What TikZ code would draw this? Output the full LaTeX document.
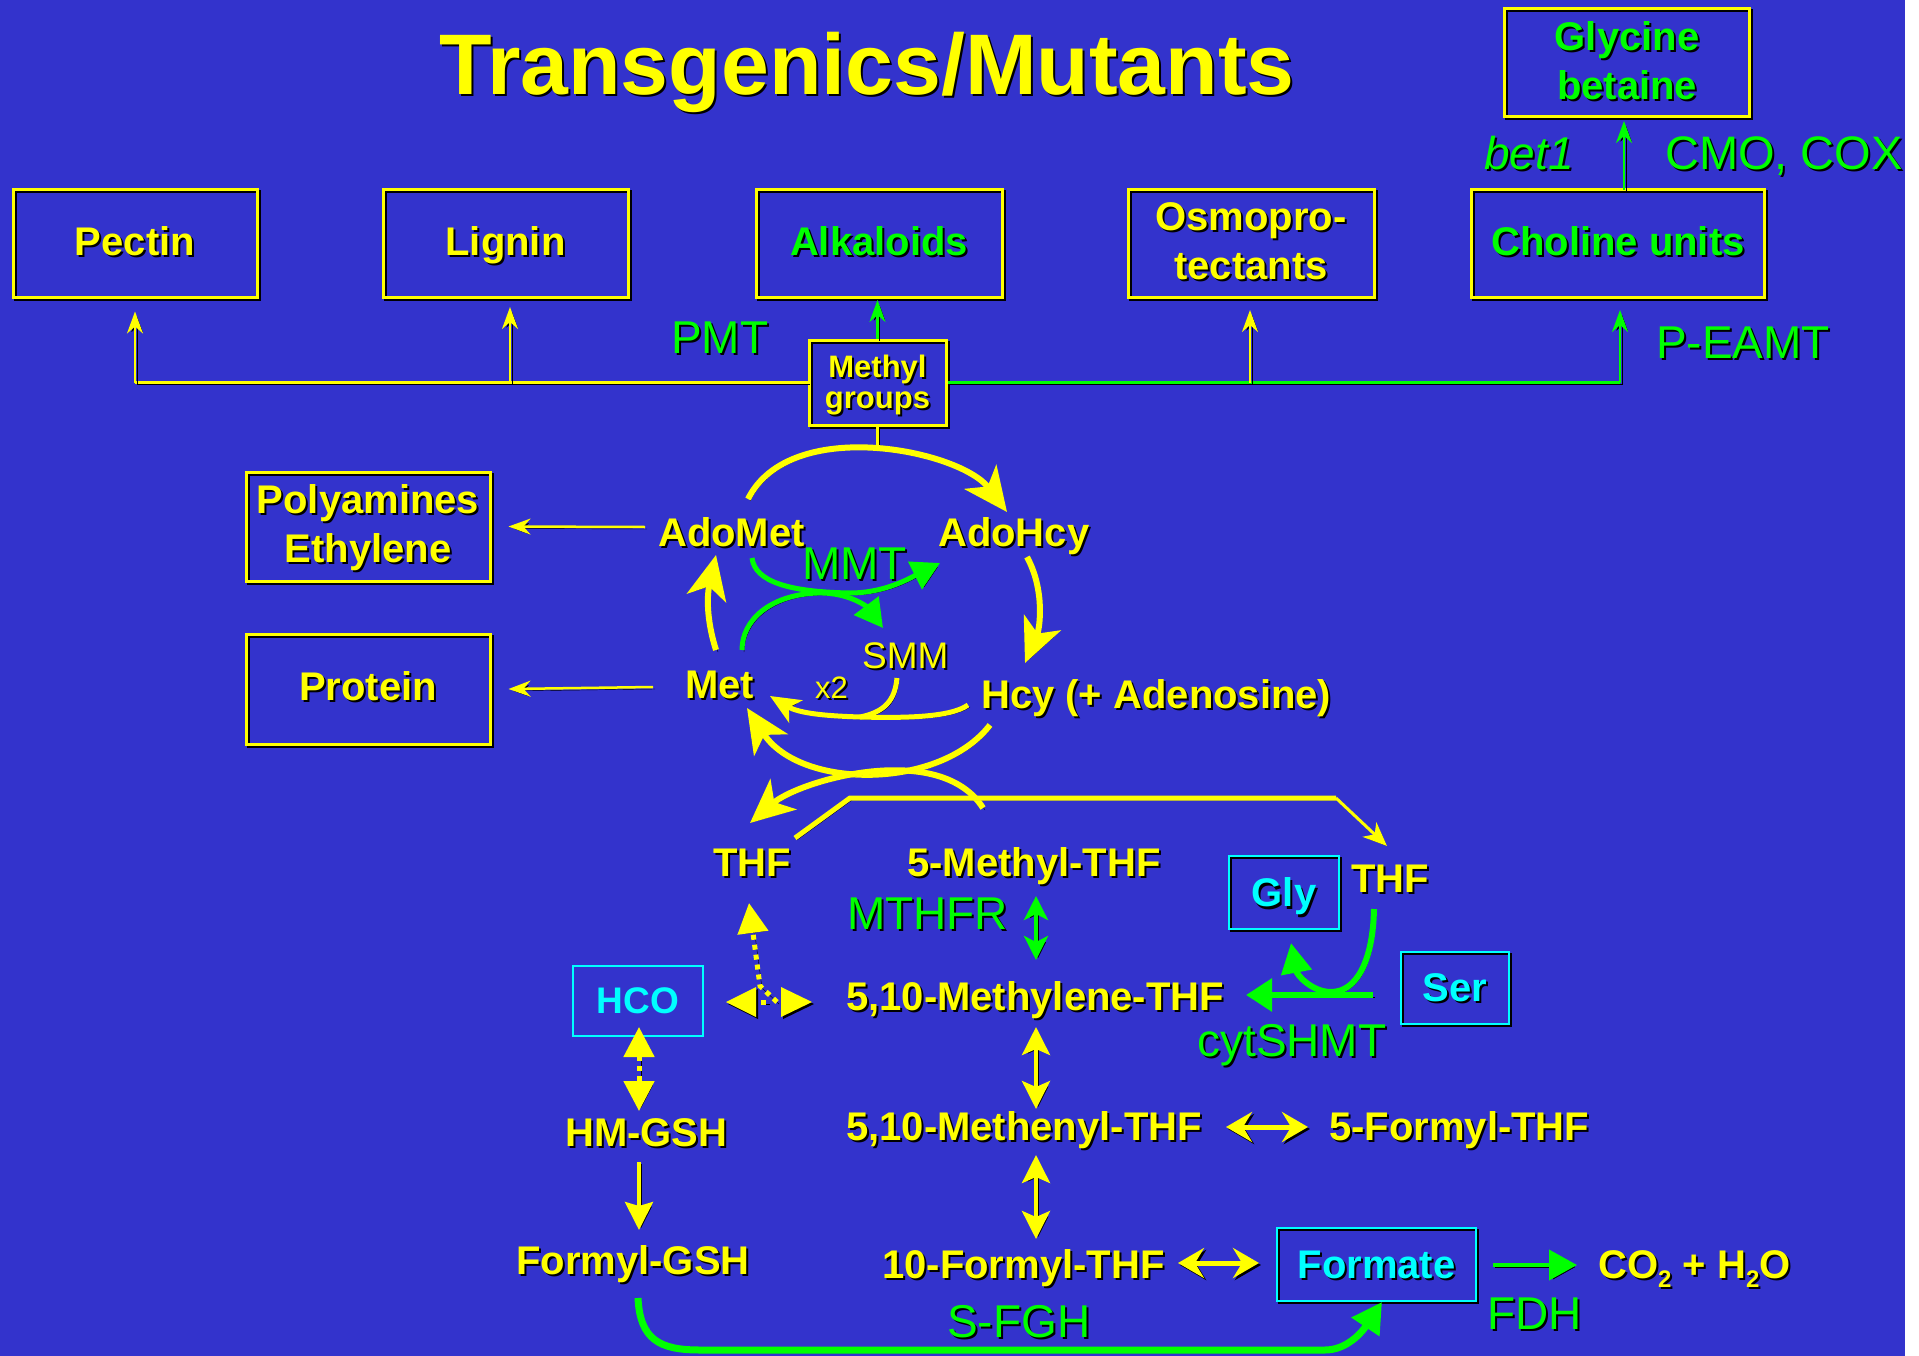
\documentclass[tikz,border=0pt]{standalone}
\usepackage{fontspec}
\setmainfont{Liberation Sans}
\usetikzlibrary{arrows.meta}
\definecolor{bg}{RGB}{51,51,204}
\definecolor{yel}{RGB}{255,255,0}
\definecolor{grn}{RGB}{0,255,0}
\definecolor{cyn}{RGB}{0,255,255}
\newcommand\sh[1]{\leavevmode\rlap{\kern2pt\raisebox{-2pt}{\color{black}#1}}#1}
\newcommand\fs[1]{\fontsize{#1}{#1}\selectfont}
\tikzset{
  shd/.style={preaction={draw=black,transform canvas={shift={(2pt,-2pt)}}}},
  fshd/.style={preaction={fill=black,transform canvas={shift={(2pt,-2pt)}}}},
  ThinTip/.tip={Stealth[length=22pt,width=16pt,inset=7pt]},
  BigTip/.tip={Stealth[length=44pt,width=40pt,inset=12pt]},
  MidTip/.tip={Stealth[length=28pt,width=28pt,inset=6pt]},
  HorTip/.tip={Stealth[length=26pt,width=30pt,inset=9pt]},
  GTip/.tip={Triangle[length=28pt,width=30pt]},
  TriTip/.tip={Triangle[length=30pt,width=30pt]},
  yline/.style={draw=yel,line width=2.5pt,shd},
  gline/.style={draw=grn,line width=2.5pt,shd},
  arc/.style={draw=yel,line width=6pt,shd},
  ydot/.style={draw=yel,line width=5pt,dash pattern=on 5pt off 5pt,shd},
  lab/.style={anchor=base west,inner sep=0pt,text=yel,font=\bfseries\fs{40}},
  enz/.style={anchor=base west,inner sep=0pt,text=grn,font=\fs{46}},
  ybox/.style={draw=yel,line width=3pt,shd,inner sep=0pt,align=center,text depth=5pt,
    minimum height=108pt,text=yel,font=\bfseries\fontsize{40}{49}\selectfont},
  cbox/.style={draw=cyn,line width=2.5pt,shd,inner sep=0pt,align=center,text depth=0pt,
    text=cyn,font=\bfseries\fs{40}},
}
\begin{document}
\begin{tikzpicture}[x=1pt,y=-1pt]
\useasboundingbox (0,0) rectangle (1919,1356);
\fill[white] (0,0) rectangle (1919,1356);
\fill[bg] (0,0) rectangle (1905,1356);

% title
\node[anchor=base,inner sep=0pt,text=yel,font=\bfseries\fs{86}] (title) at (867,95) {\sh{Transgenics/Mutants}};

% top boxes
\node[ybox,minimum width=244pt] (pectin) at (135,244) {\sh{Pectin}};
\node[ybox,minimum width=245pt] (lignin) at (505.5,244) {\sh{Lignin}};
\node[ybox,minimum width=246pt,text=grn] (alk) at (879,244) {\sh{Alkaloids}};
\node[ybox,minimum width=246pt] (osmo) at (1251,244) {\sh{Osmopro-}\\\sh{tectants}};
\node[ybox,minimum width=293pt,text=grn] (chol) at (1618,244) {\sh{Choline units}};
\node[ybox,minimum width=245pt,text=grn] (glyb) at (1627,63) {\sh{Glycine}\\\sh{betaine}};
\node[ybox,minimum width=137pt,minimum height=85pt,text depth=2pt,font=\bfseries\fontsize{31}{31}\selectfont] (methyl) at (877.5,382.5) {\sh{Methyl}\\\sh{groups}};

% enzyme labels top
\node[enz] (pmt) at (671,353) {\sh{PMT}};
\node[enz] (peamt) at (1656,358) {\sh{P-EAMT}};
\node[enz,font=\itshape\fs{46}] (bet) at (1484,170) {\sh{bet1}};
\node[enz,font=\fs{47}] (cmo) at (1665,170) {\sh{CMO, COX}};

% bus
\coordinate (bL) at (135,382.5);
\coordinate (bLig) at (510,382.5);
\coordinate (bO) at (1250,382.5);
\coordinate (bR) at (1620,382.5);
\coordinate (cg0) at (1624,190);
\coordinate (cg1) at (1624,121);
\draw[yline] (bL) -- (methyl.west);
\draw[gline] (methyl.east) -- (bR);
\draw[yline,-ThinTip] (bL) -- ([yshift=-12pt]pectin.south);
\draw[yline,-ThinTip] (bLig) -- (510,307);
\draw[yline,-ThinTip] (bO) -- (1250,310);
\draw[gline,-ThinTip] (bR) -- (1620,310);
\draw[gline,-ThinTip] (methyl.north) -- (877.5,300);
\draw[gline,-ThinTip] (cg0) -- (cg1);

% middle
\node[ybox,minimum width=244pt,minimum height=109pt] (poly) at (368,526.5) {\sh{Polyamines}\\\sh{Ethylene}};
\node[ybox,minimum width=244pt,minimum height=110pt] (prot) at (368,689) {\sh{Protein}};
\node[lab] (adomet) at (658,546) {\sh{AdoMet}};
\node[lab] (adohcy) at (938,546) {\sh{AdoHcy}};
\node[lab] (met) at (685,698) {\sh{Met}};
\node[lab] (hcy) at (981,708) {\sh{Hcy (+ Adenosine)}};
\node[anchor=base west,inner sep=0pt,text=yel,font=\fs{37}] (smm) at (862,668) {\sh{SMM}};
\node[anchor=base west,inner sep=0pt,text=yel,font=\fs{31}] (x2) at (815,698) {\sh{x2}};
\node[enz] (mmt) at (802,579) {\sh{MMT}};

\coordinate (pa0) at (645,527);
\coordinate (pr0) at (653,687);
\draw[yline,-ThinTip] (pa0) -- ([xshift=17pt]poly.east);
\draw[yline,-ThinTip] (pr0) -- ([xshift=17pt]prot.east);

\draw[yline] (methyl.south) -- (877.5,447);
\draw[arc,-BigTip] (748,499) .. controls (790,415) and (960,450) .. (1007,512);
\draw[arc,-BigTip] (1027,557) .. controls (1045,590) and (1040,628) .. (1025,663);
\draw[arc,-BigTip] (990,725) .. controls (940,790) and (800,790) .. (747,708);
\draw[arc,-BigTip] (983,808) .. controls (940,740) and (800,780) .. (750,823);
\draw[arc,-BigTip] (716,650) .. controls (708,625) and (706,600) .. (716,555);
\draw[arc,line width=5pt] (897,678) .. controls (895,700) and (885,712) .. (860,717);
\draw[arc,line width=5pt,-{Stealth[length=30pt,width=26pt,inset=8pt]}] (968,705) .. controls (950,718) and (900,718) .. (860,717) .. controls (830,716) and (800,714) .. (770,696);

\draw[gline,line width=5pt,-GTip] (752,558) .. controls (755,582) and (790,592) .. (850,593) .. controls (885,593) and (910,578) .. (940,563);
\draw[gline,line width=5pt,-GTip] (742,650) .. controls (742,620) and (770,595) .. (817,593) .. controls (850,592) and (868,608) .. (883,628);

% lower
\node[lab] (thfL) at (713,876) {\sh{THF}};
\node[lab] (mthf) at (907,876) {\sh{5-Methyl-THF}};
\node[enz] (mthfr) at (847,929) {\sh{MTHFR}};
\node[lab] (mlene) at (846,1010) {\sh{5,10-Methylene-THF}};
\node[draw=cyn,line width=2.5pt,inner sep=0pt,minimum width=130pt,minimum height=70pt,text=cyn,font=\bfseries\fs{37},text depth=0pt] (hco) at (638,1001) {HCO};
\node[lab] (hmgsh) at (565,1146) {\sh{HM-GSH}};
\node[lab] (fgsh) at (516,1274) {\sh{Formyl-GSH}};
\node[lab] (menyl) at (846,1140) {\sh{5,10-Methenyl-THF}};
\node[lab] (fthf5) at (1329,1140) {\sh{5-Formyl-THF}};
\node[lab] (fthf10) at (882,1278) {\sh{10-Formyl-THF}};
\node[cbox,minimum width=199pt,minimum height=73pt] (formate) at (1376.5,1264.5) {\sh{Formate}};
\node[lab] (co2) at (1598,1278) {\sh{CO\raisebox{-9pt}{\fs{24}2} + H\raisebox{-9pt}{\fs{24}2}O}};
\node[enz] (fdh) at (1487,1329) {\sh{FDH}};
\node[enz] (sfgh) at (947,1337) {\sh{S-FGH}};
\node[cbox,minimum width=110pt,minimum height=73pt] (gly) at (1284,892.5) {\sh{Gly}};
\node[lab] (thfR) at (1351,892) {\sh{THF}};
\node[cbox,minimum width=108pt,minimum height=72pt] (ser) at (1455,988) {\sh{Ser}};
\node[enz] (cyt) at (1197,1056) {\sh{cytSHMT}};

% THF polyline
\draw[arc,line width=5pt,line join=miter] (795,838) -- (850,798) -- (1336,798);
\draw[yline,line width=3pt,-{Stealth[length=24pt,width=20pt,inset=7pt]}] (1336,798) -- (1387,846);

% vertical double arrows
\draw[gline,line width=4pt,{Stealth[length=24pt,width=24pt,inset=6pt]}-{Stealth[length=24pt,width=24pt,inset=6pt]}] (1036,896) -- (1036,960);
\draw[yline,line width=4pt,MidTip-MidTip] (1036,1027) -- (1036,1109);
\draw[yline,line width=4pt,MidTip-MidTip] (1036,1155) -- (1036,1239);
% horizontal double arrows
\draw[yline,line width=5pt,HorTip-HorTip] (1226,1127) -- (1308,1127);
\draw[yline,line width=5pt,HorTip-HorTip] (1178,1263) -- (1259,1263);
% formate -> CO2
\draw[gline,line width=4pt,-GTip] (1493,1265) -- (1577,1265);

% HCO region
\draw[ydot,TriTip-TriTip] (639,1027) -- (639,1111);
\draw[yline,line width=4pt,-{Stealth[length=28pt,width=28pt,inset=4pt]}] (639,1162) -- (639,1230);
\draw[ydot,-TriTip] (777,1002) -- (760,986) -- (749,903);
\draw[ydot] (761,1002) -- (768,1002);
\fill[yel,fshd] (726,1002) -- (756,987) -- (756,1017) -- cycle;
\fill[yel,fshd] (812,1002) -- (781,987) -- (781,1017) -- cycle;

% SHMT
\draw[gline,line width=6pt,-{Triangle[length=30pt,width=30pt]}] (1374,909) .. controls (1373,960) and (1357,992) .. (1331,992) .. controls (1312,992) and (1297,975) .. (1291,943);
\draw[gline,line width=6pt,-{Triangle[length=26pt,width=32pt]}] (1373,995) -- (1246,995);

% S-FGH
\draw[gline,line width=7pt,-{Triangle[length=30pt,width=32pt]}] (638,1298) .. controls (640,1340) and (660,1350) .. (700,1350) -- (1325,1350) .. controls (1345,1350) and (1360,1335) .. (1382,1302);

% right white strip
\fill[white] (1905,0) rectangle (1919,1356);
\end{tikzpicture}
\end{document}
